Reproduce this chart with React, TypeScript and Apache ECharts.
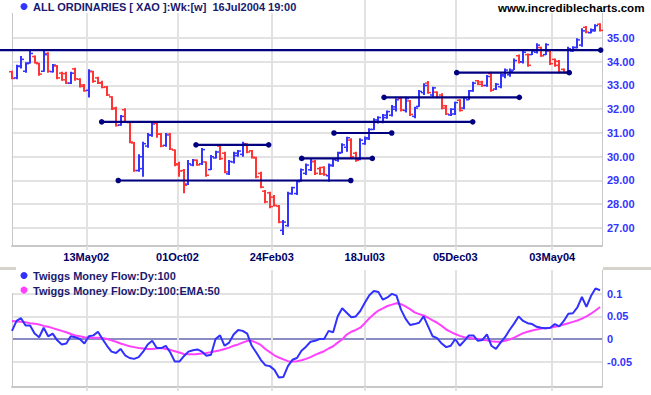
import React, { useEffect, useRef } from "react";
import * as echarts from "echarts";

// ---------- data ----------
const FIRST_WEEK = "2002-01-18"; // first weekly bar
const tickDates = ["2002-05-13", "2002-10-01", "2003-02-24", "2003-07-18", "2003-12-05", "2004-05-03"];
const tickLabels = ["13May02", "01Oct02", "24Feb03", "18Jul03", "05Dec03", "03May04"];
const priceTicks = [27, 28, 29, 30, 31, 32, 33, 34, 35];
const flowTicks = [-0.05, 0, 0.05, 0.1];

const opens = [
  33.58, 33.32, 33.8, 33.6, 33.95, 34.22, 33.92, 33.6, 34.35, 33.58,
  33.82, 33.52, 33.5, 33.1, 33.7, 33.26, 33.02, 32.8, 33.58, 33.32,
  33.12, 32.94, 32.52, 32.05, 31.34, 31.98, 31.44, 30.58, 29.42, 29.5,
  30.45, 30.9, 31.4, 30.95, 30.48, 30.95, 30.28, 29.7, 29.42, 28.85,
  29.65, 29.85, 29.7, 29.78, 29.46, 29.95, 30.45, 30.15, 29.28, 29.78,
  30.05, 30.1, 30.52, 30.25, 29.95, 29.3, 28.55, 28.48, 28.3, 27.92,
  26.9, 27.1, 28.45, 28.45, 29.0, 29.3, 29.45, 29.8, 29.5, 29.55,
  29.2, 29.62, 29.85, 30.18, 30.4, 30.7, 30.15, 29.9, 30.55, 30.75,
  31.15, 31.45, 31.45, 31.65, 31.75, 32.0, 32.45, 31.95, 32.35, 31.7,
  32.12, 32.7, 33.1, 32.6, 32.72, 32.6, 32.15, 31.76, 31.8, 32.38,
  32.05, 32.4, 32.78, 33.2, 33.15, 33.0, 33.5, 32.85, 32.95, 33.4,
  33.45, 33.65, 34.25, 34.0, 34.3, 34.3, 34.4, 34.6, 34.3, 34.45,
  34.1, 34.02, 33.68, 33.55, 34.45, 34.6, 34.7, 35.45, 35.22, 35.3,
  35.58,
];
const highs = [
  33.62, 33.87, 34.24, 33.98, 34.47, 34.26, 33.96, 34.45, 34.4, 33.9,
  33.86, 33.58, 33.58, 33.58, 33.75, 33.3, 33.06, 33.68, 33.62, 33.37,
  33.2, 32.98, 32.55, 32.11, 31.76, 32.04, 31.48, 30.62, 30.1, 30.63,
  31.0, 31.45, 31.45, 31.0, 31.0, 31.0, 30.3, 29.79, 29.48, 29.86,
  29.9, 29.88, 30.37, 29.8, 30.07, 30.25, 30.49, 30.21, 29.86, 30.21,
  30.28, 30.63, 30.57, 30.28, 30.0, 29.37, 28.6, 28.53, 28.39, 27.97,
  27.34, 28.53, 28.74, 29.02, 29.51, 29.72, 29.9, 29.86, 29.58, 29.6,
  29.72, 29.93, 30.21, 30.57, 30.84, 30.78, 30.21, 30.78, 30.85, 31.2,
  31.62, 31.7, 31.8, 31.95, 32.18, 32.46, 32.53, 32.53, 32.39, 32.11,
  32.81, 33.09, 33.19, 32.95, 32.75, 32.67, 32.18, 32.04, 32.32, 32.42,
  32.53, 32.81, 33.16, 33.23, 33.2, 33.44, 33.58, 33.1, 33.51, 33.72,
  33.72, 34.14, 34.31, 34.49, 34.35, 34.49, 34.78, 34.63, 34.78, 34.49,
  34.14, 34.07, 33.72, 34.63, 34.65, 34.99, 35.41, 35.5, 35.4, 35.58,
  35.62,
];
const lows = [
  33.26, 33.26, 33.72, 33.54, 33.93, 33.93, 33.41, 33.58, 33.54, 33.55,
  33.26, 33.2, 33.06, 33.06, 33.2, 32.92, 32.74, 32.49, 33.12, 33.06,
  32.88, 32.56, 31.97, 31.27, 31.3, 31.42, 30.57, 29.37, 29.37, 29.16,
  30.38, 30.84, 30.8, 30.4, 30.42, 30.28, 29.6, 29.16, 28.46, 28.81,
  29.6, 29.62, 29.65, 29.16, 29.44, 29.93, 29.86, 29.3, 29.23, 29.72,
  30.0, 30.0, 30.15, 29.93, 29.09, 28.67, 28.04, 27.83, 27.9, 27.2,
  26.71, 27.05, 28.4, 28.39, 28.95, 29.23, 29.4, 29.23, 29.23, 29.2,
  28.95, 29.58, 29.79, 30.15, 30.21, 29.95, 29.79, 29.85, 30.5, 30.7,
  31.13, 31.4, 31.41, 31.6, 31.69, 31.9, 31.9, 31.86, 31.72, 31.62,
  32.11, 32.6, 32.65, 32.53, 32.46, 32.0, 31.76, 31.72, 31.76, 31.9,
  32.0, 32.39, 32.74, 33.02, 32.95, 32.95, 32.74, 32.81, 32.88, 33.3,
  33.37, 33.65, 33.93, 33.93, 33.79, 34.28, 34.35, 34.21, 34.28, 33.86,
  33.79, 33.51, 33.51, 33.51, 34.42, 34.56, 34.63, 35.2, 35.2, 35.27,
  35.27,
];
const closes = [
  33.3, 33.82, 34.1, 33.92, 34.35, 33.96, 33.48, 34.3, 33.6, 33.86,
  33.32, 33.24, 33.1, 33.52, 33.28, 32.96, 32.78, 33.6, 33.18, 33.1,
  32.92, 32.6, 32.02, 31.32, 31.7, 31.46, 30.62, 29.42, 30.0, 30.55,
  30.92, 31.38, 30.95, 30.45, 30.92, 30.32, 29.66, 29.4, 28.8, 29.7,
  29.85, 29.66, 30.3, 29.22, 30.0, 30.2, 29.92, 29.36, 29.8, 30.15,
  30.24, 30.55, 30.2, 29.98, 29.15, 28.72, 28.1, 27.9, 27.95, 27.25,
  27.25, 28.45, 28.7, 28.95, 29.45, 29.65, 29.8, 29.3, 29.28, 29.25,
  29.65, 29.88, 30.15, 30.5, 30.8, 30.0, 29.85, 30.7, 30.8, 31.15,
  31.55, 31.65, 31.75, 31.9, 32.1, 32.4, 31.97, 32.45, 31.78, 32.05,
  32.75, 33.0, 32.7, 32.9, 32.5, 32.05, 31.8, 32.0, 32.28, 31.95,
  32.48, 32.78, 33.1, 33.05, 33.0, 33.38, 32.8, 33.05, 33.45, 33.65,
  33.6, 34.05, 33.98, 34.4, 33.85, 34.45, 34.7, 34.25, 34.72, 33.92,
  33.85, 33.56, 33.55, 34.55, 34.6, 34.92, 35.3, 35.25, 35.35, 35.52,
  35.32,
];

// Twiggs Money Flow (weekly samples of the daily line) and its EMA
const flow = [
  0.018, 0.04, 0.046, 0.03, 0.03, 0.012, 0.004, 0.025, 0.006, 0.012,
  -0.003, -0.012, -0.01, 0.006, 0.004, 0.0, -0.01, 0.006, 0.008, 0.016,
  0.0, -0.015, -0.028, -0.031, -0.022, -0.036, -0.042, -0.044, -0.04, -0.028,
  -0.012, -0.004, -0.02, -0.02, -0.015, -0.03, -0.05, -0.05, -0.038, -0.028,
  -0.025, -0.023, -0.028, -0.037, -0.035, 0.0, 0.008, -0.015, -0.008, 0.01,
  0.02, 0.018, 0.012, -0.015, -0.03, -0.046, -0.058, -0.06, -0.068, -0.085,
  -0.084, -0.06, -0.046, -0.042, -0.026, -0.017, -0.006, -0.004, 0.0, 0.0,
  0.018, 0.015, 0.05, 0.068, 0.058, 0.048, 0.05, 0.062, 0.08, 0.097,
  0.106, 0.104, 0.087, 0.092, 0.1, 0.096, 0.065, 0.045, 0.031, 0.033,
  0.036, 0.05, 0.028, 0.006, 0.002, -0.01, -0.018, -0.015, 0.0, -0.015,
  -0.004, 0.008, 0.008, -0.004, -0.002, 0.01, -0.015, -0.022, -0.008, 0.004,
  0.02, 0.034, 0.05, 0.04, 0.035, 0.033, 0.027, 0.025, 0.024, 0.025,
  0.033, 0.028, 0.04, 0.056, 0.057, 0.07, 0.093, 0.071, 0.095, 0.112,
  0.108,
];
const flowEma = [
  0.04, 0.039, 0.038, 0.037, 0.035, 0.034, 0.032, 0.029, 0.027, 0.024,
  0.021, 0.018, 0.015, 0.011, 0.008, 0.006, 0.004, 0.003, 0.003, 0.003,
  0.002, 0.0, -0.003, -0.006, -0.01, -0.013, -0.016, -0.018, -0.02, -0.021,
  -0.022, -0.022, -0.021, -0.02, -0.022, -0.024, -0.027, -0.03, -0.033, -0.034,
  -0.034, -0.033, -0.032, -0.031, -0.029, -0.027, -0.025, -0.022, -0.019, -0.015,
  -0.012, -0.008, -0.004, -0.004, -0.008, -0.013, -0.022, -0.029, -0.036, -0.041,
  -0.045, -0.049, -0.05, -0.049, -0.047, -0.044, -0.04, -0.035, -0.031, -0.027,
  -0.021, -0.016, -0.008, -0.001, 0.01, 0.016, 0.02, 0.025, 0.035, 0.046,
  0.055, 0.063, 0.068, 0.073, 0.076, 0.079, 0.077, 0.072, 0.066, 0.059,
  0.055, 0.052, 0.047, 0.041, 0.036, 0.029, 0.021, 0.016, 0.011, 0.007,
  0.004, 0.003, 0.001, 0.0, -0.002, -0.003, -0.005, -0.006, -0.006, -0.004,
  -0.001, 0.003, 0.008, 0.013, 0.016, 0.019, 0.021, 0.023, 0.024, 0.025,
  0.027, 0.029, 0.032, 0.035, 0.038, 0.041, 0.045, 0.05, 0.056, 0.063,
  0.071,
];

// support / resistance lines (price level, from week, to week, dot at start)
const levelPrices = [29.0, 31.47, 30.5, 29.93, 31.0, 32.5, 33.54, 34.49];
const levelFrom = [23.5, 19.83, 40.68, 64.05, 71.19, 82.25, 98.32, -2.65];
const levelTo = [74.9, 101.86, 56.75, 79.66, 83.95, 112.16, 123.2, 130.15];
const levelDotFrom = [1, 1, 1, 1, 1, 1, 1, 0];

// ---------- helpers ----------
const DAY = 86400000;
const weekIndex = (d: string) =>
  (Date.parse(d + "T00:00:00Z") - Date.parse(FIRST_WEEK + "T00:00:00Z")) / (7 * DAY);

const FONT = "'Liberation Sans', Arial, Helvetica, sans-serif";
const BLUE = "#3434ff";
const RED = "#ff3434";
const NAVY = "#000080";
const GRID = "#e2e2e2";
const BORDER = "#c8c8c8";

export default function App() {
  const ref = useRef<HTMLDivElement>(null);

  useEffect(() => {
    if (!ref.current) return;
    const chart = echarts.init(ref.current, undefined, { renderer: "svg" });

    const tickPos = tickDates.map(weekIndex);
    const labelFor = (v: number) => {
      const k = tickPos.findIndex((p) => Math.abs(p - v) < 1e-6);
      return k >= 0 ? tickLabels[k] : "";
    };
    const X_MAX = 130.44;
    const P_MIN = 26.242, P_MAX = 36.6;
    const F_MIN = -0.1062, F_MAX = 0.1527;

    const xCommon = (grid: number, labels: boolean) => ({
      type: "value",
      gridIndex: grid,
      min: 0,
      max: X_MAX,
      axisLine: { show: true, onZero: false, lineStyle: { color: BORDER, width: 2 } },
      axisTick: { show: true, length: 4, customValues: tickPos, lineStyle: { color: GRID, width: 2 } },
      axisLabel: {
        show: labels,
        customValues: tickPos,
        formatter: labelFor,
        color: "#000066",
        fontWeight: "bold",
        fontSize: 11,
        fontFamily: FONT,
        margin: 5,
      },
      splitLine: { show: true, lineStyle: { color: GRID, width: 2 } },
    });

    const bars = opens.map((o, i) => [i, o, highs[i], lows[i], closes[i]]);
    const levels = levelPrices.map((p, k) => [levelFrom[k], levelTo[k], p, levelDotFrom[k]]);

    const option: any = {
      animation: false,
      backgroundColor: "#ffffff",
      textStyle: { fontFamily: FONT },
      grid: [
        { left: 12, top: 0, width: 590, height: 246 },
        { left: 12, top: 270, width: 590, height: 117 },
      ],
      xAxis: [xCommon(0, true), xCommon(1, false)],
      yAxis: [
        {
          type: "value",
          gridIndex: 0,
          position: "right",
          min: P_MIN,
          max: P_MAX,
          axisLine: { show: true, onZero: false, lineStyle: { color: BORDER, width: 1 } },
          axisTick: { show: false, customValues: priceTicks },
          axisLabel: {
            customValues: priceTicks,
            formatter: (v: number) => v.toFixed(2),
            color: BLUE,
            fontWeight: "bold",
            fontSize: 11,
            fontFamily: FONT,
            margin: 5,
          },
          splitLine: { show: true, lineStyle: { color: GRID, width: 2 } },
        },
        {
          type: "value",
          gridIndex: 0,
          position: "left",
          min: P_MIN,
          max: P_MAX,
          axisLine: { show: true, onZero: false, lineStyle: { color: BORDER, width: 1 } },
          axisTick: { show: false },
          axisLabel: { show: false },
          splitLine: { show: false },
        },
        {
          type: "value",
          gridIndex: 1,
          position: "right",
          min: F_MIN,
          max: F_MAX,
          axisLine: { show: true, onZero: false, lineStyle: { color: BORDER, width: 1 } },
          axisTick: { show: false, customValues: flowTicks },
          axisLabel: {
            customValues: flowTicks,
            formatter: (v: number) => String(v),
            color: BLUE,
            fontWeight: "bold",
            fontSize: 11,
            fontFamily: FONT,
            margin: 5,
          },
          splitLine: {
            show: true,
            lineStyle: { color: [GRID, "#8c8cc4", GRID, GRID], width: [2] },
          },
        },
        {
          type: "value",
          gridIndex: 1,
          position: "left",
          min: F_MIN,
          max: F_MAX,
          axisLine: { show: true, onZero: false, lineStyle: { color: BORDER, width: 1 } },
          axisTick: { show: false },
          axisLabel: { show: false },
          splitLine: { show: false },
        },
      ],
      series: [
        {
          type: "custom",
          name: "ALL ORDINARIES",
          xAxisIndex: 0,
          yAxisIndex: 0,
          data: bars,
          encode: { x: 0, y: [1, 2, 3, 4] },
          renderItem: (params: any, api: any) => {
            const i = api.value(0);
            const o = api.value(1), h = api.value(2), l = api.value(3), c = api.value(4);
            const ph = api.coord([i, h]);
            const pl = api.coord([i, l]);
            const po = api.coord([i, o]);
            const pc = api.coord([i, c]);
            const x = Math.round(ph[0]);
            const color = c >= o ? BLUE : RED;
            return {
              type: "group",
              children: [
                { type: "line", shape: { x1: x, y1: ph[1], x2: x, y2: pl[1] }, style: { stroke: color, lineWidth: 2 } },
                { type: "line", shape: { x1: x - 3, y1: po[1], x2: x, y2: po[1] }, style: { stroke: color, lineWidth: 1.5 } },
                { type: "line", shape: { x1: x, y1: pc[1], x2: x + 3, y2: pc[1] }, style: { stroke: color, lineWidth: 1.5 } },
              ],
            };
          },
          z: 3,
        },
        {
          type: "custom",
          name: "levels",
          xAxisIndex: 0,
          yAxisIndex: 0,
          data: levels,
          encode: { x: [0, 1], y: 2 },
          renderItem: (params: any, api: any) => {
            const a = api.coord([api.value(0), api.value(2)]);
            const b = api.coord([api.value(1), api.value(2)]);
            const children: any[] = [
              { type: "line", shape: { x1: a[0], y1: a[1], x2: b[0], y2: b[1] }, style: { stroke: NAVY, lineWidth: 2.2 } },
              { type: "circle", shape: { cx: b[0], cy: b[1], r: 2.8 }, style: { fill: NAVY } },
            ];
            if (api.value(3)) {
              children.push({ type: "circle", shape: { cx: a[0], cy: a[1], r: 2.8 }, style: { fill: NAVY } });
            }
            return { type: "group", children };
          },
          z: 4,
        },
        {
          type: "line",
          name: "Twiggs Money Flow:Dy:100:EMA:50",
          xAxisIndex: 1,
          yAxisIndex: 2,
          data: flowEma.map((v, i) => [i, v]),
          showSymbol: false,
          lineStyle: { color: "#ff40ff", width: 2 },
          itemStyle: { color: "#ff40ff" },
          z: 3,
        },
        {
          type: "line",
          name: "Twiggs Money Flow:Dy:100",
          xAxisIndex: 1,
          yAxisIndex: 2,
          data: flow.map((v, i) => [i, v]),
          showSymbol: false,
          lineStyle: { color: "#3030ff", width: 2 },
          itemStyle: { color: "#3030ff" },
          z: 4,
        },
      ],
      graphic: [
        { type: "rect", z: 100, shape: { x: 0, y: 0, width: 296, height: 13 }, style: { fill: "#ffffff" } },
        { type: "circle", z: 101, shape: { cx: 24, cy: 6.5, r: 3.5 }, style: { fill: BLUE } },
        {
          type: "text", z: 101, x: 33, y: 7,
          style: { text: "ALL ORDINARIES [ XAO ]:Wk:[w]  16Jul2004 19:00", fill: "#1a1a70", fontSize: 11, fontWeight: "bold", fontFamily: FONT, verticalAlign: "middle" },
        },
        { type: "rect", z: 100, shape: { x: 494, y: 0, width: 157, height: 13 }, style: { fill: "#ffffff" } },
        {
          type: "text", z: 101, x: 498, y: 7,
          style: { text: "www.incrediblecharts.com", fill: "#000000", fontSize: 11.6, fontWeight: "bold", fontFamily: FONT, verticalAlign: "middle" },
        },
        { type: "rect", z: 100, shape: { x: 0, y: 267, width: 16, height: 3 }, style: { fill: "#d6d3cc" } },
        { type: "rect", z: 100, shape: { x: 603, y: 267, width: 48, height: 3 }, style: { fill: "#d6d3cc" } },
        { type: "rect", z: 100, shape: { x: 0, y: 270, width: 232, height: 23 }, style: { fill: "#ffffff" } },
        { type: "circle", z: 101, shape: { cx: 24, cy: 275.5, r: 3.5 }, style: { fill: "#3030ff" } },
        {
          type: "text", z: 101, x: 33, y: 276,
          style: { text: "Twiggs Money Flow:Dy:100", fill: "#1a1a70", fontSize: 11, fontWeight: "bold", fontFamily: FONT, verticalAlign: "middle" },
        },
        { type: "circle", z: 101, shape: { cx: 24, cy: 290, r: 3.5 }, style: { fill: "#ff40ff" } },
        {
          type: "text", z: 101, x: 33, y: 290.5,
          style: { text: "Twiggs Money Flow:Dy:100:EMA:50", fill: "#1a1a70", fontSize: 11, fontWeight: "bold", fontFamily: FONT, verticalAlign: "middle" },
        },
      ],
    };

    chart.setOption(option);
    return () => chart.dispose();
  }, []);

  return (
    <div
      ref={ref}
      style={{ position: "absolute", left: 0, top: 0, width: 651, height: 395, background: "#ffffff" }}
    />
  );
}
